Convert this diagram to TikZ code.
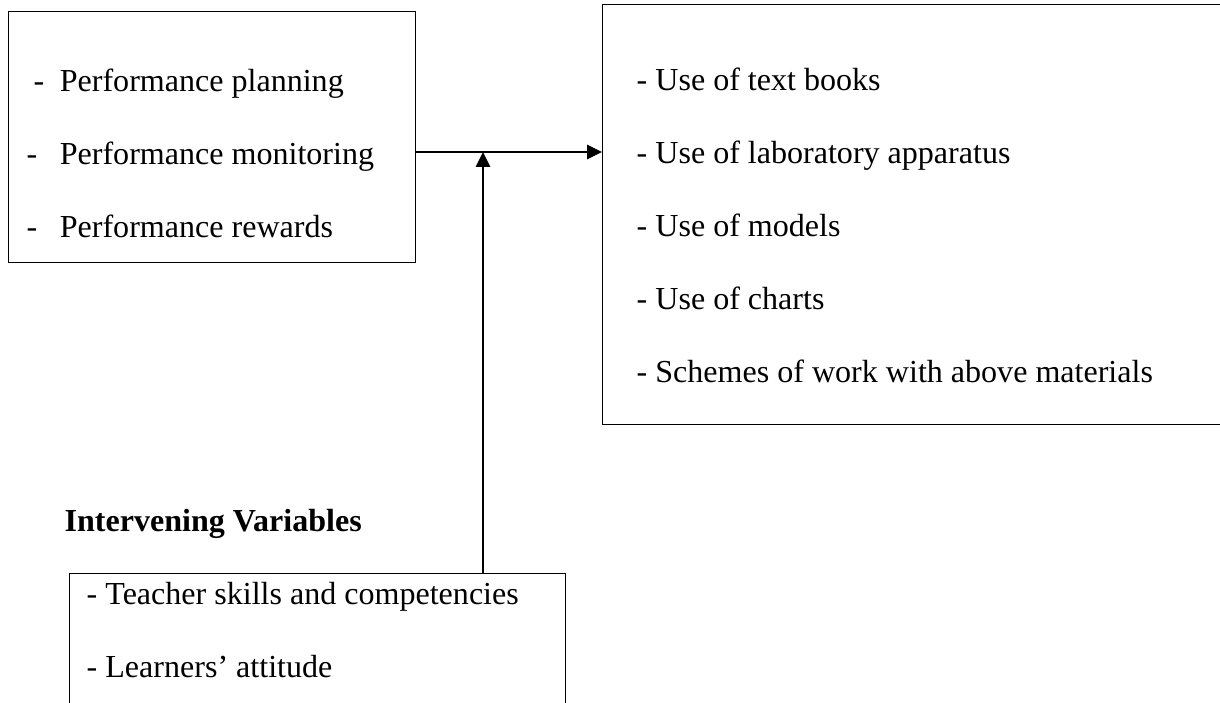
\documentclass[tikz,border=0pt]{standalone}
\usepackage{fontspec}
\setmainfont{Liberation Serif}
\usetikzlibrary{arrows.meta}

\begin{document}
\begin{tikzpicture}[line width=1pt,
  box/.style={draw, rectangle, anchor=north west, inner sep=0pt},
  item/.style={anchor=base west, inner sep=0pt, font=\fontsize{22.8}{27}\selectfont},
  link/.style={-{Triangle[length=0.37cm,width=0.36cm]}}]
  \useasboundingbox (0,0) rectangle (30.5,17.575);
  \node[box, minimum width=10.175cm, minimum height=6.275cm] (perf) at (0.2,17.3) {};
  \node[box, minimum width=15.575cm, minimum height=10.5cm] (use) at (15.05,17.475) {};
  \node[box, minimum width=12.4cm, minimum height=3.425cm] (interv) at (1.725,3.25) {};
  \foreach \x/\gap/\lbl [count=\i] in {0.825/11pt/Performance planning, 0.65/16pt/Performance monitoring, 0.65/16pt/Performance rewards}
    \node[item] (p\i) at (\x,17.1-1.825*\i) {-\hspace{\gap}\lbl};
  \foreach \lbl [count=\i] in {Use of text books, Use of laboratory apparatus, Use of models, Use of charts, Schemes of work with above materials}
    \node[item] (u\i) at (15.9,17.125-1.825*\i) {- \lbl};
  \node[item, font=\fontsize{22.8}{27}\selectfont\bfseries] (ivtitle) at (1.6,4.275) {Intervening Variables};
  \foreach \lbl [count=\i] in {Teacher skills and competencies, Learners’ attitude}
    \node[item] (t\i) at (2.15,4.275-1.825*\i) {- \lbl};
  \coordinate (j) at (12.075,13.775);
  \draw[link] (perf.east |- j) -- (use.west |- j);
  \draw[link] (interv.north -| j) -- (j);
\end{tikzpicture}
\end{document}
